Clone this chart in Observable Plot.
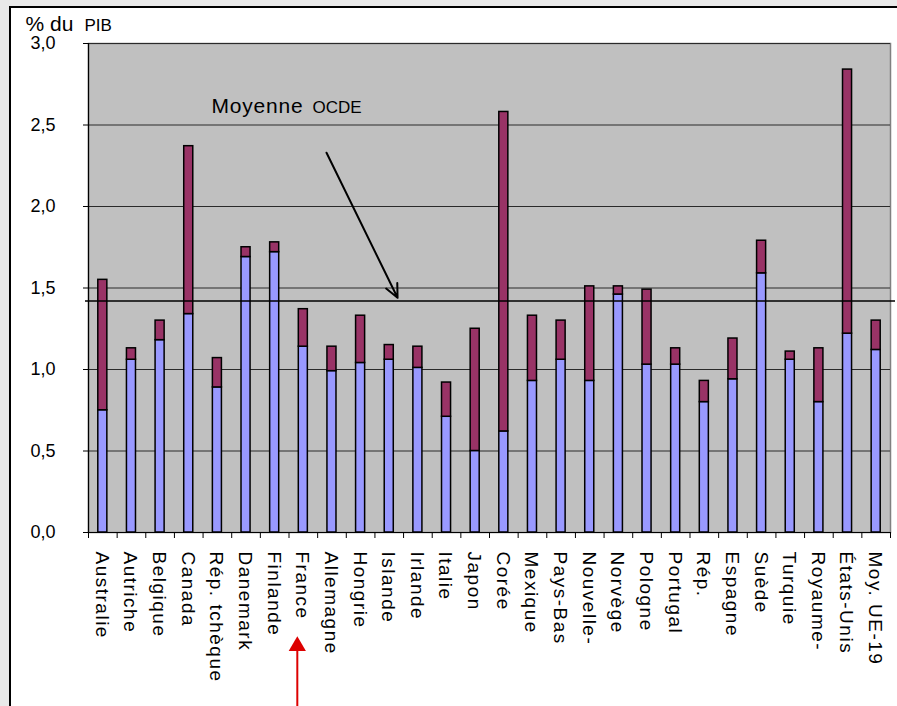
<!DOCTYPE html>
<html>
<head>
<meta charset="utf-8">
<script src="https://cdn.jsdelivr.net/npm/d3@7"></script>
<script src="https://cdn.jsdelivr.net/npm/@observablehq/plot@0.6"></script>
<style>
html, body { margin: 0; padding: 0; background: #e9e9e9; }
#wrap { position: relative; width: 897px; height: 706px; overflow: hidden; background: #e9e9e9; }
#frame { position: absolute; left: 9px; top: 6px; right: -10px; bottom: -10px;
  border-left: 2px solid #000; border-top: 2px solid #000; background: #fff; }
#chart { position: absolute; left: 0; top: 0; }
#chart svg { overflow: visible; }
</style>
</head>
<body>
<div id="wrap"><div id="frame"></div><div id="chart"></div></div>
<script>
// Categories (as printed, truncated labels kept)
const countries = ["Australie", "Autriche", "Belgique", "Canada", "Rép. tchèque", "Danemark",
  "Finlande", "France", "Allemagne", "Hongrie", "Islande", "Irlande", "Italie", "Japon", "Corée",
  "Mexique", "Pays-Bas", "Nouvelle-", "Norvège", "Pologne", "Portugal", "Rép.", "Espagne",
  "Suède", "Turquie", "Royaume-", "États-Unis", "Moy. UE-19"];
// Lower segment (blue)
const publicSpend = [0.75, 1.06, 1.18, 1.34, 0.89, 1.69, 1.72, 1.14, 0.99, 1.04, 1.06, 1.01, 0.71,
  0.50, 0.62, 0.93, 1.06, 0.93, 1.46, 1.03, 1.03, 0.80, 0.94, 1.59, 1.06, 0.80, 1.22, 1.12];
// Upper segment (maroon)
const privateSpend = [0.80, 0.07, 0.12, 1.03, 0.18, 0.06, 0.06, 0.23, 0.15, 0.29, 0.09, 0.13, 0.21,
  0.75, 1.96, 0.40, 0.24, 0.58, 0.05, 0.46, 0.10, 0.13, 0.25, 0.20, 0.05, 0.33, 1.62, 0.18];
const yTicks = [0, 0.5, 1, 1.5, 2, 2.5, 3];
const oecdMean = 1.42;

const rows = countries.map((c, i) => ({i, country: c, pub: publicSpend[i], priv: privateSpend[i]}));
const FONT = "'Liberation Sans', Arial, Helvetica, sans-serif";
const barInset = 9.8;

const chart = Plot.plot({
  width: 897,
  height: 706,
  marginLeft: 88,
  marginRight: 7,
  marginTop: 43,
  marginBottom: 174,
  x: {domain: [0, countries.length], axis: null},
  y: {domain: [0, 3], axis: null},
  style: {background: "transparent", fontFamily: FONT, color: "#000", overflow: "visible"},
  marks: [
    Plot.frame({fill: "#C0C0C0", stroke: "#808080", strokeWidth: 1.5}),
    Plot.gridY(yTicks.slice(1), {stroke: "#2a2a2a", strokeOpacity: 1, strokeWidth: 1.1}),
    Plot.rect(rows, {x1: d => d.i, x2: d => d.i + 1, y1: 0, y2: d => d.pub,
      insetLeft: barInset, insetRight: barInset, fill: "#9999FF", stroke: "#000", strokeWidth: 1.5}),
    Plot.rect(rows, {x1: d => d.i, x2: d => d.i + 1, y1: d => d.pub, y2: d => d.pub + d.priv,
      insetLeft: barInset, insetRight: barInset, fill: "#993366", stroke: "#000", strokeWidth: 1.5}),
    Plot.ruleX([0], {stroke: "#000", strokeWidth: 1.2}),
    Plot.ruleY([0], {stroke: "#000", strokeWidth: 1.2}),
    Plot.axisY({ticks: yTicks, anchor: "left", tickSize: 5, tickPadding: 28, fontSize: 18,
      tickFormat: d => d.toFixed(1).replace(".", ",")}),
    Plot.axisX({ticks: d3.range(countries.length + 1), anchor: "bottom", tickSize: 6, tickFormat: () => ""}),
    Plot.text(countries, {x: (d, i) => i + 0.5, y: 0, rotate: 90, textAnchor: "start", lineAnchor: "middle",
      dy: 19, dx: -1, fontSize: 19, fill: "#000"}),
    Plot.ruleY([oecdMean], {stroke: "#000", strokeWidth: 1.5, insetLeft: -3, insetRight: -5}),
    Plot.text(["Moyenne"], {x: 4.29, y: 2.615, textAnchor: "start", lineAnchor: "middle", fontSize: 21,
      fill: "#000"}),
    Plot.text(["OCDE"], {x: 7.82, y: 2.608, textAnchor: "start", lineAnchor: "middle", fontSize: 17,
      fill: "#000"}),
    Plot.arrow([0], {x1: 8.31, y1: 2.33, x2: 10.79, y2: 1.44, stroke: "#000", strokeWidth: 2,
      headLength: 11, headAngle: 50}),
    Plot.link([0], {x1: 7.29, x2: 7.29, y1: -1.2, y2: -0.72, stroke: "#dd0000", strokeWidth: 2}),
    Plot.dot([0], {x: 7.29, y: -0.697, symbol: "triangle", r: 6.4, fill: "#dd0000", stroke: "none"}),
    Plot.text(["% du"], {frameAnchor: "top-left", dx: -63, dy: -19.7, textAnchor: "start",
      lineAnchor: "middle", fontSize: 21, fill: "#000"}),
    Plot.text(["PIB"], {frameAnchor: "top-left", dx: -4, dy: -18.4, textAnchor: "start",
      lineAnchor: "middle", fontSize: 17, fill: "#000"})
  ]
});
// widen the category labels a little, as in the original rendering
d3.select(chart).selectAll("text")
  .filter(function() { return countries.includes(this.textContent); })
  .attr("letter-spacing", "1.5px");
d3.select(chart).selectAll("text")
  .filter(function() { return this.textContent === "Moyenne"; })
  .attr("letter-spacing", "0.8px");
document.getElementById("chart").appendChild(chart);
</script>
</body>
</html>
